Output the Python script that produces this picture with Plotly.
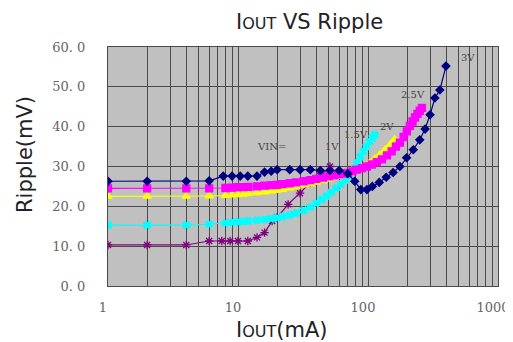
import math
import plotly.graph_objects as go

# ---- data ----
x_tickvals = [1, 10, 100, 1000]
x_ticktext = ["1", "10", "100", "1000"]
y_tickvals = [0, 10, 20, 30, 40, 50, 60]
y_ticktext = ["0. 0", "10. 0", "20. 0", "30. 0", "40. 0", "50. 0", "60. 0"]
minor_x = [2, 3, 4, 5, 6, 7, 8, 9, 20, 30, 40, 50, 60, 70, 80, 90,
           200, 300, 400, 500, 600, 700, 800, 900]

v3_x = [1, 2, 4, 6, 7.7, 9, 10.4, 11.9, 14, 16, 18, 20, 25, 30, 36, 43, 51, 60,
        70, 79, 88, 98, 108, 122, 138, 156, 176, 198, 223, 250, 275, 300, 327, 357, 398]
v3_y = [26.3, 26.3, 26.3, 26.4, 27.6, 27.6, 27.6, 27.6, 27.6, 28.6, 28.8, 29.2, 29.2, 29.2,
        29.2, 29.0, 29.0, 29.0, 28.2, 26.3, 24.2, 24.2, 25.0, 26.0, 27.3, 28.5, 30.0, 32.2,
        34.2, 36.7, 39.4, 43.0, 47.2, 49.2, 55.2]

v25_x = [1, 2, 4, 6, 8, 9, 10, 11, 12, 14, 16, 18, 20, 22, 25, 28, 32, 36, 40, 45, 50, 55,
         60, 65, 70, 76, 82, 90, 98, 107, 117, 128, 140, 152, 164, 176, 188, 199, 210, 220,
         230, 240, 250, 260]
v25_y = [24.5, 24.5, 24.5, 24.5, 24.6, 24.7, 24.8, 24.8, 24.9, 25.0, 25.2, 25.3, 25.4, 25.6,
         25.8, 26.0, 26.3, 26.6, 26.9, 27.2, 27.5, 27.8, 28.0, 28.2, 28.4, 28.8, 29.2, 29.6,
         30.0, 30.5, 31.1, 31.8, 32.8, 33.8, 35.0, 36.0, 37.4, 38.8, 40.2, 41.3, 42.3, 43.2,
         44.0, 44.7]

v2_x = [1, 2, 4, 6, 8, 9, 10, 11, 12, 14, 16, 18, 20, 22, 25, 28, 32, 36, 40, 45, 50, 55,
        60, 66, 72, 79, 86, 94, 103, 113, 123, 135, 148, 160]
v2_y = [22.5, 22.5, 22.5, 22.6, 22.7, 22.8, 22.9, 23.0, 23.2, 23.4, 23.6, 23.8, 24.0, 24.2,
        24.6, 24.9, 25.3, 25.6, 26.0, 26.4, 26.8, 27.2, 27.5, 27.9, 28.3, 28.9, 29.5, 30.2,
        31.0, 32.0, 33.0, 34.2, 35.5, 36.8]

v15_x = [1, 2, 4, 6, 8, 9, 10, 11, 12, 14, 16, 18, 20, 22, 25, 28, 32, 36, 40, 44, 48, 52,
         57, 62, 67, 72, 77, 82, 87, 92, 97, 103, 108, 113]
v15_y = [15.3, 15.3, 15.3, 15.5, 15.8, 16.0, 16.1, 16.2, 16.3, 16.5, 16.7, 16.9, 17.1, 17.4,
         17.8, 18.3, 19.0, 19.8, 20.8, 21.7, 22.6, 23.5, 24.6, 25.6, 26.6, 27.7, 29.0, 30.8,
         32.4, 33.8, 35.0, 36.2, 37.2, 38.0]

v1_x = [1, 2, 4, 6, 7.5, 8.7, 10, 11.9, 14, 16, 18.3, 20, 24.3, 30, 36, 43, 51]
v1_y = [10.3, 10.3, 10.3, 11.3, 11.3, 11.3, 11.3, 11.3, 12.2, 13.4, 16.3, 17.2, 20.5, 23.3,
        25.9, 27.6, 30.0]

series = [
    # name, x, y, color, symbol, size, label xshift, yshift
    ("3V", v3_x, v3_y, "#000080", "diamond", 6, 22, 9),
    ("2.5V", v25_x, v25_y, "#FF00FF", "square", 7, -9, 13),
    ("2V", v2_x, v2_y, "#FFFF00", "triangle-up", 7, -8, 13),
    ("1.5V", v15_x, v15_y, "#00FFFF", "x", 6, -19, 0),
    ("1V", v1_x, v1_y, "#800080", "asterisk-open", 7, 2, 20),
]

fig = go.Figure()
serif = "DejaVu Serif, Liberation Serif, serif"
for name, xs, ys, col, sym, sz, dx, dy in series[::-1]:
    fig.add_trace(go.Scatter(
        x=xs, y=ys, mode="lines+markers", name=name,
        line=dict(color=col, width=1.2),
        marker=dict(symbol=sym, size=sz, color=col,
                    line=dict(color=col, width=1.3)),
    ))
for name, xs, ys, col, sym, sz, dx, dy in series:
    fig.add_annotation(x=math.log10(xs[-1]), y=ys[-1], xref="x", yref="y", text=name,
                       showarrow=False, xshift=dx, yshift=dy,
                       xanchor="center", yanchor="middle",
                       font=dict(family=serif, size=10, color="#444"))

fig.add_annotation(x=(271 - 108) / 390, y=(286 - 146) / 239, xref="paper", yref="paper",
                   text="VIN=", showarrow=False, xanchor="center", yanchor="middle",
                   font=dict(family=serif, size=10, color="#444"))

sans = "DejaVu Sans, Open Sans, sans-serif"
fig.add_annotation(x=(309 - 108) / 390, y=(286 - 22) / 239, xref="paper", yref="paper",
                   text="I<span style='font-size:16px'>OUT</span> VS Ripple",
                   xanchor="center", yanchor="middle",
                   showarrow=False, font=dict(family=sans, size=21, color="#222"))
fig.add_annotation(x=(282 - 108) / 390, y=(286 - 330) / 239, xref="paper", yref="paper",
                   text="I<span style='font-size:16px'>OUT</span>(mA)",
                   xanchor="center", yanchor="middle",
                   showarrow=False, font=dict(family=sans, size=21, color="#222"))
fig.add_annotation(x=(25 - 108) / 390, y=(286 - 155) / 239, xref="paper", yref="paper",
                   text="Ripple(mV)", textangle=-90, xanchor="center", yanchor="middle",
                   showarrow=False, font=dict(family=sans, size=21, color="#222"))

# page body has an 8px default margin: shrink the figure so it fits the window
fig.update_layout(
    width=505, height=334,
    margin=dict(l=100, r=15, t=39, b=56, autoexpand=False),
    paper_bgcolor="white", plot_bgcolor="#C0C0C0",
    showlegend=False,
)
fig.update_xaxes(
    type="log", range=[0, 3], tickmode="array", tickvals=x_tickvals, ticktext=x_ticktext,
    showgrid=True, gridcolor="#4a4a4a", gridwidth=1,
    minor=dict(tickmode="array", tickvals=minor_x, showgrid=True,
               gridcolor="#4a4a4a", gridwidth=1, ticks=""),
    showline=True, linecolor="#4a4a4a", mirror=True, zeroline=False,
    ticks="", ticklabelstandoff=9, ticklabelshift=-5, ticklabeloverflow="allow",
    automargin=False,
    tickfont=dict(family=serif, size=13, color="#666"),
)
fig.update_yaxes(
    range=[0, 60], tickmode="array", tickvals=y_tickvals, ticktext=y_ticktext,
    showgrid=True, gridcolor="#4a4a4a", gridwidth=1,
    showline=True, linecolor="#4a4a4a", mirror=True, zeroline=False,
    ticks="", ticklabelstandoff=19, automargin=False,
    tickfont=dict(family=serif, size=13, color="#666"),
)

fig.write_html("out.html")
